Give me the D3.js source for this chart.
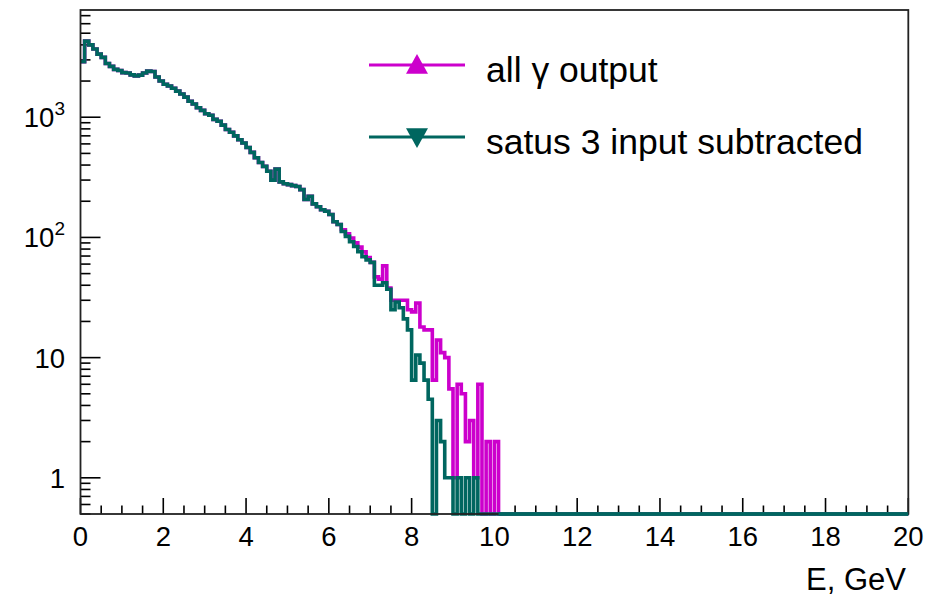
<!DOCTYPE html>
<html>
<head>
<meta charset="utf-8">
<script src="https://cdn.jsdelivr.net/npm/d3@7"></script>
<style>
  body { margin: 0; background: #fff; }
  text { font-family: "Liberation Sans", Arial, Helvetica, sans-serif; fill: #000; }
</style>
</head>
<body>
<div id="chart-area"></div>
<script>
// histogram: 0.1 GeV bins starting at 0, bins after the listed ones are empty up to 20 GeV
let binWidth = 0.1;
let xMax = 20;

// "satus 3 input subtracted"
let subtracted = [
  2900, 4300, 4000, 3700, 3350, 3150, 2800, 2650, 2500, 2450,
  2350, 2330, 2250, 2200, 2240, 2330, 2420, 2400, 2160, 2000,
  1880, 1820, 1740, 1650, 1560, 1470, 1360, 1290, 1200, 1140,
  1070, 1040, 960, 926, 860, 790, 750, 700, 650, 610,
  560, 510, 460, 420, 390, 355, 300, 370, 290, 280,
  275, 270, 265, 250, 207, 220, 190, 180, 170, 165,
  155, 135, 128, 112, 102, 92, 84, 76, 69, 65,
  62, 40, 40, 42, 37, 25, 29, 26, 21, 17,
  6.5, 10.5, 9, 6.5, 4.5, 0, 3, 2, 1, 1,
  0, 1, 0, 1, 0, 1, 0, 0, 0, 0, 0
];

// "all gamma output"
let allOutput = [
  2900, 4300, 4000, 3700, 3350, 3150, 2800, 2650, 2500, 2450,
  2350, 2330, 2250, 2200, 2240, 2330, 2420, 2400, 2160, 2000,
  1880, 1820, 1740, 1650, 1560, 1470, 1360, 1290, 1200, 1140,
  1070, 1040, 960, 926, 860, 790, 750, 700, 650, 610,
  560, 510, 460, 420, 390, 355, 300, 370, 290, 280,
  275, 270, 265, 250, 207, 220, 190, 180, 170, 165,
  155, 135, 128, 116, 107, 99, 90, 83, 76, 68,
  62, 47, 45, 58, 38, 30, 30, 30, 30, 25,
  24, 28.5, 18, 17, 17, 6.5, 14, 11, 10, 5.5,
  1, 6, 5, 2, 3, 1, 6, 0, 2, 0, 2
];

let xTicks = [0, 2, 4, 6, 8, 10, 12, 14, 16, 18, 20];
let yDecades = [1, 10, 100, 1000];
let yLabels = ["1", "10", "10^2", "10^3"];
let legendNames = ["all \u03b3 output", "satus 3 input subtracted"];

let W = 945, H = 598;
let frame = {left: 80.5, right: 908.3, top: 10, bottom: 514};
let yMin = 0.5, yMax = 7800;

let magenta = "#cc00cc";
let teal = "#00665f";
let lineW = 3.6;

var svg = d3.select("#chart-area")
  .append("svg")
  .attr("width", W)
  .attr("height", H);

var x = d3.scaleLinear().domain([0, xMax]).range([frame.left, frame.right]);
var y = d3.scaleLog().domain([yMin, yMax]).range([frame.bottom, frame.top]).clamp(true);

function yv(v) {
  return v > yMin ? y(v) : y(yMin);
}

// step outline like ROOT "HIST"
function histPath(values) {
  var p = d3.path();
  values.forEach(function(v, i) {
    var x0 = x(i * binWidth), x1 = x((i + 1) * binWidth);
    if (i === 0) p.moveTo(x0, yv(v)); else p.lineTo(x0, yv(v));
    p.lineTo(x1, yv(v));
  });
  // empty bins to the end of the axis
  p.lineTo(x(values.length * binWidth), y(yMin));
  p.lineTo(x(xMax), y(yMin));
  return p.toString();
}

// x axis ticks (pointing up into the frame)
var xMinor = d3.range(0, xMax + 0.001, 0.5);
svg.append("g").selectAll("line")
  .data(xMinor)
  .enter().append("line")
  .attr("x1", function(d) { return x(d); })
  .attr("x2", function(d) { return x(d); })
  .attr("y1", frame.bottom)
  .attr("y2", function(d) { return d % 2 === 0 ? frame.bottom - 16 : frame.bottom - 8.5; })
  .attr("stroke", "#000")
  .attr("stroke-width", 1.6);

svg.append("g").selectAll("text")
  .data(xTicks)
  .enter().append("text")
  .attr("x", function(d) { return x(d); })
  .attr("y", 546)
  .attr("text-anchor", "middle")
  .attr("font-size", "27.5px")
  .text(function(d) { return d; });

// y axis ticks: decades long, 2..9 short
var yMinor = [];
[0.1, 1, 10, 100, 1000].forEach(function(dec) {
  for (var k = 2; k <= 9; k++) {
    var v = dec * k;
    if (v >= yMin && v <= yMax) yMinor.push(v);
  }
});
svg.append("g").selectAll("line")
  .data(yMinor)
  .enter().append("line")
  .attr("x1", frame.left)
  .attr("x2", frame.left + 10)
  .attr("y1", function(d) { return y(d); })
  .attr("y2", function(d) { return y(d); })
  .attr("stroke", "#000")
  .attr("stroke-width", 1.6);

svg.append("g").selectAll("line")
  .data(yDecades)
  .enter().append("line")
  .attr("x1", frame.left)
  .attr("x2", frame.left + 20)
  .attr("y1", function(d) { return y(d); })
  .attr("y2", function(d) { return y(d); })
  .attr("stroke", "#000")
  .attr("stroke-width", 1.6);

var yl = svg.append("g").selectAll("text")
  .data(yDecades)
  .enter().append("text")
  .attr("x", 65)
  .attr("y", function(d) { return y(d) + 10; })
  .attr("text-anchor", "end")
  .attr("font-size", "27.5px");
yl.each(function(d, i) {
  var parts = yLabels[i].split("^");
  var t = d3.select(this);
  t.append("tspan").text(parts[0]);
  if (parts[1]) {
    t.append("tspan")
      .attr("dy", -12)
      .attr("font-size", "19px")
      .text(parts[1]);
  }
});

// histograms
svg.append("path")
  .attr("d", histPath(allOutput))
  .attr("fill", "none")
  .attr("stroke", magenta)
  .attr("stroke-width", lineW);

svg.append("path")
  .attr("d", histPath(subtracted))
  .attr("fill", "none")
  .attr("stroke", teal)
  .attr("stroke-width", lineW);

// frame
svg.append("rect")
  .attr("x", frame.left)
  .attr("y", frame.top)
  .attr("width", frame.right - frame.left)
  .attr("height", frame.bottom - frame.top)
  .attr("fill", "none")
  .attr("stroke", "#222")
  .attr("stroke-width", 1.8);
// zero bins drawn over the bottom frame line
svg.append("line")
  .attr("x1", x(subtracted.length * binWidth))
  .attr("x2", x(xMax))
  .attr("y1", frame.bottom)
  .attr("y2", frame.bottom)
  .attr("stroke", teal)
  .attr("stroke-width", lineW);

// axis title
svg.append("text")
  .attr("x", 906)
  .attr("y", 590)
  .attr("text-anchor", "end")
  .attr("font-size", "31px")
  .text("E, GeV");

// legend
var legY = [65, 137];
var legColors = [magenta, teal];
var leg = svg.append("g");
legendNames.forEach(function(name, i) {
  leg.append("line")
    .attr("x1", 369).attr("x2", 465)
    .attr("y1", legY[i]).attr("y2", legY[i])
    .attr("stroke", legColors[i])
    .attr("stroke-width", 3);
  var s = 11;
  var tri = i === 0
    ? [[417, legY[i] - s], [417 - s, legY[i] + s * 0.8], [417 + s, legY[i] + s * 0.8]]
    : [[417, legY[i] + s], [417 - s, legY[i] - s * 0.8], [417 + s, legY[i] - s * 0.8]];
  leg.append("path")
    .attr("d", d3.line()(tri) + "Z")
    .attr("fill", legColors[i]);
  leg.append("text")
    .attr("x", 486)
    .attr("y", legY[i] + 17)
    .attr("font-size", "35.5px")
    .text(name);
});
</script>
</body>
</html>
